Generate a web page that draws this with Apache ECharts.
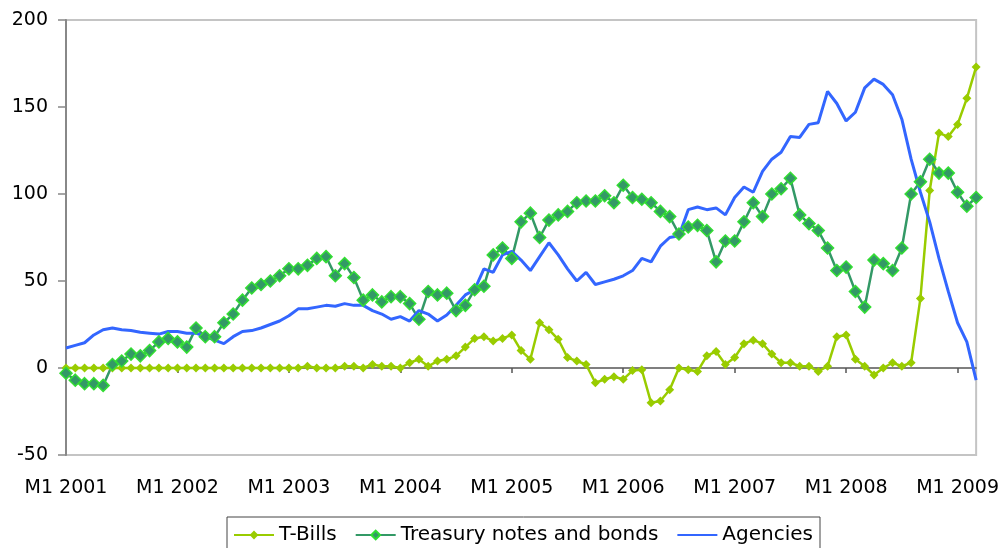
<!doctype html>
<html lang="en">
<head>
    <meta charset="UTF-8">
    <title>T-Bills, Treasury notes and bonds, Agencies</title>
    <script type="text/javascript" src="https://cdn.jsdelivr.net/npm/echarts@6/dist/echarts.min.js"></script>
    <style>
        html, body {margin: 0; padding: 0; background: #fff;}
        #chart {width: 1002px; height: 548px;}
    </style>
</head>
<body>
<div id="chart"></div>
<script>
    // monthly, M1 2001 .. M3 2009
    var years = [2001, 2002, 2003, 2004, 2005, 2006, 2007, 2008, 2009];
    var lastMonth2009 = 3;
    var yTicks = {min: -50, max: 200, step: 50};

    var tBills = [
        0, 0, 0, 0, 0, 0, 0, 0, 0, 0, 0, 0,
        0, 0, 0, 0, 0, 0, 0, 0, 0, 0, 0, 0,
        0, 0, 1, 0, 0, 0, 1, 1, 0, 2, 1, 1,
        0, 3, 5, 1, 4, 5, 7, 12, 17, 18, 15.5, 17,
        19, 10, 5, 26, 22, 16.5, 6, 4, 2, -8.5, -6.5, -5,
        -6.5, -1.5, -1, -20, -19, -12.5, 0, -1, -2, 7, 9.5, 2,
        6, 14, 16, 14, 8, 3, 3, 1, 1, -2, 1, 18,
        19, 5, 1, -4, 0, 3, 1, 3, 40, 102, 135, 133,
        140, 155, 173
    ];
    var treasury = [
        -3, -7, -9, -9, -10, 2, 4, 8, 7, 10, 15, 17,
        15, 12, 23, 18, 18, 26, 31, 39, 46, 48, 50, 53,
        57, 57, 59, 63, 64, 53, 60, 52, 39, 42, 38, 41,
        41, 37, 28, 44, 42, 43, 33, 36, 45, 47, 65, 69,
        63, 84, 89, 75, 85, 88, 90, 95, 96, 96, 99, 95,
        105, 98, 97, 95, 90, 87, 77, 81, 82, 79, 61, 73,
        73, 84, 95, 87, 100, 103, 109, 88, 83, 79, 69, 56,
        58, 44, 35, 62, 60, 56, 69, 100, 107, 120, 112, 112,
        101, 93, 98
    ];
    var agencies = [
        11.5, 13, 14.5, 19, 22, 23, 22, 21.5, 20.5, 20, 19.5, 21,
        21, 20, 20, 18, 16, 14, 18, 21, 21.5, 23, 25, 27,
        30, 34, 34, 35, 36, 35.5, 37, 36, 36, 33, 31, 28,
        29.5, 27, 33, 31, 27, 30.5, 36, 42, 45, 57, 55, 65,
        67, 62, 56, 64, 72, 65, 57, 50, 55, 48, 49.5, 51,
        53, 56, 63, 61, 70, 75, 76, 91, 92.5, 91, 92, 88,
        98, 104, 101, 113, 120, 124, 133, 132.5, 140, 141, 159, 152,
        142, 147, 161, 166, 163, 157, 143, 120, 101, 84, 63, 44,
        26, 15, -7
    ];

    var months = [];
    years.forEach(function (y) {
        var n = y === 2009 ? lastMonth2009 : 12;
        for (var m = 1; m <= n; m++) months.push('M' + m + ' ' + y);
    });

    var font = 'DejaVu Sans';
    var chart = echarts.init(document.getElementById('chart'));
    chart.setOption({
        animation: false,
        backgroundColor: '#fff',
        grid: {
            left: 66, top: 20, right: 21, bottom: 93,
            show: true, borderColor: '#c4c4c4', borderWidth: 2
        },
        legend: {
            data: ['T-Bills', 'Treasury notes and bonds',
                {name: 'Agencies', itemStyle: {opacity: 0}}],
            left: 227, top: 517,
            padding: [8, 7, 30, 6],
            itemWidth: 40, itemHeight: 11, itemGap: 18,
            borderColor: '#444', borderWidth: 1,
            textStyle: {fontFamily: font, fontSize: 20, color: '#000'}
        },
        xAxis: [
            {   // zero line with yearly ticks
                type: 'category', data: months, boundaryGap: false,
                axisLine: {onZero: true, lineStyle: {color: '#555', width: 1.5}},
                axisTick: {show: true, interval: 11, length: 5, lineStyle: {color: '#555', width: 1.5}},
                axisLabel: {show: false},
                splitLine: {show: false}
            },
            {   // labels at the bottom
                type: 'category', data: months, boundaryGap: false, position: 'bottom',
                axisLine: {show: false, onZero: false},
                axisTick: {show: false},
                axisLabel: {
                    interval: 11, margin: 24,
                    fontFamily: font, fontSize: 19, color: '#000'
                },
                splitLine: {show: false}
            }
        ],
        yAxis: {
            type: 'value', min: yTicks.min, max: yTicks.max, interval: yTicks.step,
            axisLine: {show: true, lineStyle: {color: '#888', width: 2}},
            axisTick: {show: true, length: 8, lineStyle: {color: '#888', width: 1.5}},
            axisLabel: {margin: 18, fontFamily: font, fontSize: 19, color: '#000'},
            splitLine: {show: false}
        },
        series: [
            {
                name: 'T-Bills', type: 'line', data: tBills,
                symbol: 'diamond', symbolSize: 9, showAllSymbol: true,
                lineStyle: {color: '#99cc00', width: 2.5},
                itemStyle: {color: '#99cc00'}
            },
            {
                name: 'Treasury notes and bonds', type: 'line', data: treasury,
                symbol: 'diamond', symbolSize: 12, showAllSymbol: true,
                lineStyle: {color: '#339966', width: 2.5},
                itemStyle: {color: '#339966', borderColor: '#33dd33', borderWidth: 1.5}
            },
            {
                name: 'Agencies', type: 'line', data: agencies,
                symbol: 'none',
                lineStyle: {color: '#3366ff', width: 3},
                itemStyle: {color: '#3366ff'}
            }
        ]
    });
</script>
</body>
</html>
